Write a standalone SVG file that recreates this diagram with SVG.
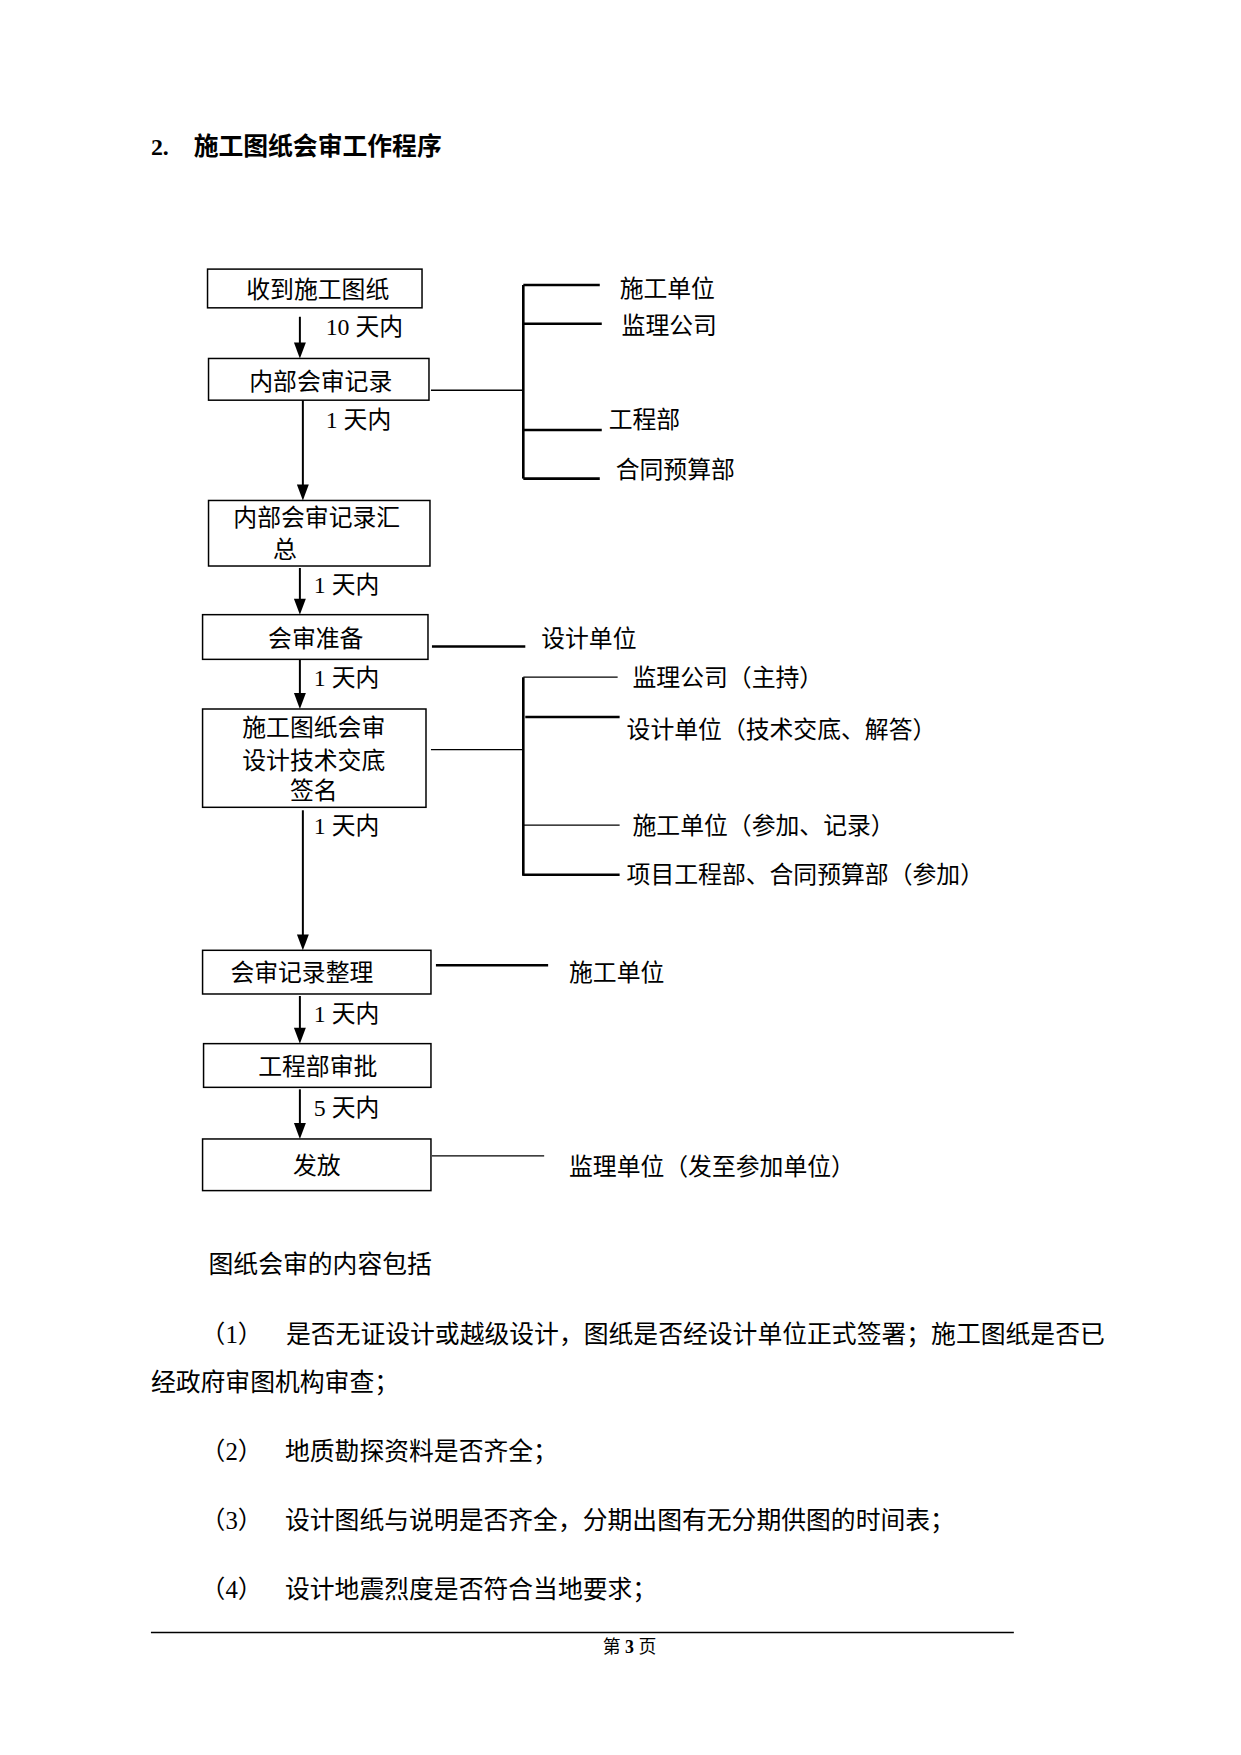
<svg xmlns="http://www.w3.org/2000/svg" width="1241" height="1755" viewBox="0 0 1241 1755">
<style>
text{font-family:"Liberation Serif","Noto Sans CJK SC",serif;fill:#000;}
.t{font-size:24px;}
.c{text-anchor:middle;}
.b{font-size:25px;}
.box{fill:#fff;stroke:#000;stroke-width:1.5;}
.thin{stroke:#000;stroke-width:1.3;fill:none;}
.thick{stroke:#000;stroke-width:2.6;fill:none;}
.arr{stroke:#000;stroke-width:2;fill:none;}
</style>
<rect width="1241" height="1755" fill="#fff"/>
<g transform="scale(0.993)">
<text x="152" y="156" style="font-size:24px;font-weight:bold">2.</text>
<text x="195" y="156" style="font-size:25px;font-weight:bold">施工图纸会审工作程序</text>

<g id="connectors">
<line class="arr" x1="302" y1="319" x2="302" y2="347"/>
<path d="M296,345 L308,345 L302,361 Z"/>
<line class="arr" x1="305" y1="403" x2="305" y2="490"/>
<path d="M299,488 L311,488 L305,504 Z"/>
<line class="arr" x1="302" y1="572" x2="302" y2="605"/>
<path d="M296,603 L308,603 L302,619 Z"/>
<line class="arr" x1="302" y1="664" x2="302" y2="700"/>
<path d="M296,698 L308,698 L302,714 Z"/>
<line class="arr" x1="305" y1="816" x2="305" y2="943"/>
<path d="M299,941 L311,941 L305,957 Z"/>
<line class="arr" x1="302" y1="1003" x2="302" y2="1037"/>
<path d="M296,1035 L308,1035 L302,1051 Z"/>
<line class="arr" x1="302" y1="1097" x2="302" y2="1133"/>
<path d="M296,1131 L308,1131 L302,1147 Z"/>

<line class="thin" x1="434" y1="393" x2="527" y2="393"/>
<line class="thick" x1="527" y1="287" x2="527" y2="482"/>
<line class="thick" x1="527" y1="287" x2="604" y2="287"/>
<line class="thick" x1="527" y1="326" x2="606" y2="326"/>
<line class="thick" x1="527" y1="433" x2="606" y2="433"/>
<line class="thick" x1="527" y1="482" x2="604" y2="482"/>

<line class="thick" x1="435" y1="651" x2="529" y2="651"/>

<line class="thin" x1="434" y1="755" x2="527" y2="755"/>
<line class="thick" x1="527" y1="682" x2="527" y2="882"/>
<line class="thin" x1="527" y1="682" x2="622" y2="682"/>
<line class="thick" x1="529" y1="722" x2="624" y2="722"/>
<line class="thin" x1="527" y1="831" x2="624" y2="831"/>
<line class="thick" x1="527" y1="881" x2="624" y2="881"/>

<line class="thick" x1="439" y1="972" x2="552" y2="972"/>
<line class="thin" x1="435" y1="1164" x2="548" y2="1164"/>
</g>

<g id="labels">
<text class="t" x="328" y="337">10 天内</text>
<text class="t" x="328" y="431">1 天内</text>
<text class="t" x="316" y="597">1 天内</text>
<text class="t" x="316" y="691">1 天内</text>
<text class="t" x="316" y="840">1 天内</text>
<text class="t" x="316" y="1029">1 天内</text>
<text class="t" x="316" y="1124">5 天内</text>
<text class="t" x="624" y="299">施工单位</text>
<text class="t" x="626" y="336">监理公司</text>
<text class="t" x="613" y="431">工程部</text>
<text class="t" x="620" y="481">合同预算部</text>
<text class="t" x="545" y="652">设计单位</text>
<text class="t" x="637" y="691">监理公司（主持）</text>
<text class="t" x="631" y="743">设计单位（技术交底、解答）</text>
<text class="t" x="637" y="840">施工单位（参加、记录）</text>
<text class="t" x="631" y="889">项目工程部、合同预算部（参加）</text>
<text class="t" x="573" y="988">施工单位</text>
<text class="t" x="573" y="1183">监理单位（发至参加单位）</text>
</g>

<g id="n1"><rect class="box" x="209" y="271" width="216" height="39"/><text class="t c" x="320" y="300">收到施工图纸</text></g>
<g id="n2"><rect class="box" x="210" y="361" width="222" height="42"/><text class="t c" x="323" y="393">内部会审记录</text></g>
<g id="n3"><rect class="box" x="210" y="504" width="223" height="66"/><text class="t" x="235" y="530">内部会审记录汇</text><text class="t" x="275" y="562">总</text></g>
<g id="n4"><rect class="box" x="204" y="619" width="227" height="45"/><text class="t c" x="318" y="652">会审准备</text></g>
<g id="n5"><rect class="box" x="204" y="714" width="225" height="99"/><text class="t c" x="316" y="741">施工图纸会审</text><text class="t c" x="316" y="774">设计技术交底</text><text class="t c" x="316" y="805">签名</text></g>
<g id="n6"><rect class="box" x="204" y="957" width="230" height="44"/><text class="t c" x="304" y="988">会审记录整理</text></g>
<g id="n7"><rect class="box" x="205" y="1051" width="229" height="44"/><text class="t c" x="320" y="1083">工程部审批</text></g>
<g id="n8"><rect class="box" x="204" y="1147" width="230" height="52"/><text class="t c" x="319" y="1182">发放</text></g>

<text class="b" x="210" y="1282">图纸会审的内容包括</text>
<text class="b" x="202" y="1352">（1）</text>
<text class="b" x="288" y="1352">是否无证设计或越级设计，图纸是否经设计单位正式签署；施工图纸是否已</text>
<text class="b" x="152" y="1401">经政府审图机构审查；</text>
<text class="b" x="202" y="1470">（2）</text>
<text class="b" x="287" y="1470">地质勘探资料是否齐全；</text>
<text class="b" x="202" y="1540">（3）</text>
<text class="b" x="287" y="1540">设计图纸与说明是否齐全，分期出图有无分期供图的时间表；</text>
<text class="b" x="202" y="1609">（4）</text>
<text class="b" x="287" y="1609">设计地震烈度是否符合当地要求；</text>

<line x1="152" y1="1644" x2="1021" y2="1644" stroke="#000" stroke-width="1.3"/>
<text x="634" y="1665" style="font-size:18px;text-anchor:middle">第 <tspan font-weight="bold">3</tspan> 页</text>
</g>
</svg>
